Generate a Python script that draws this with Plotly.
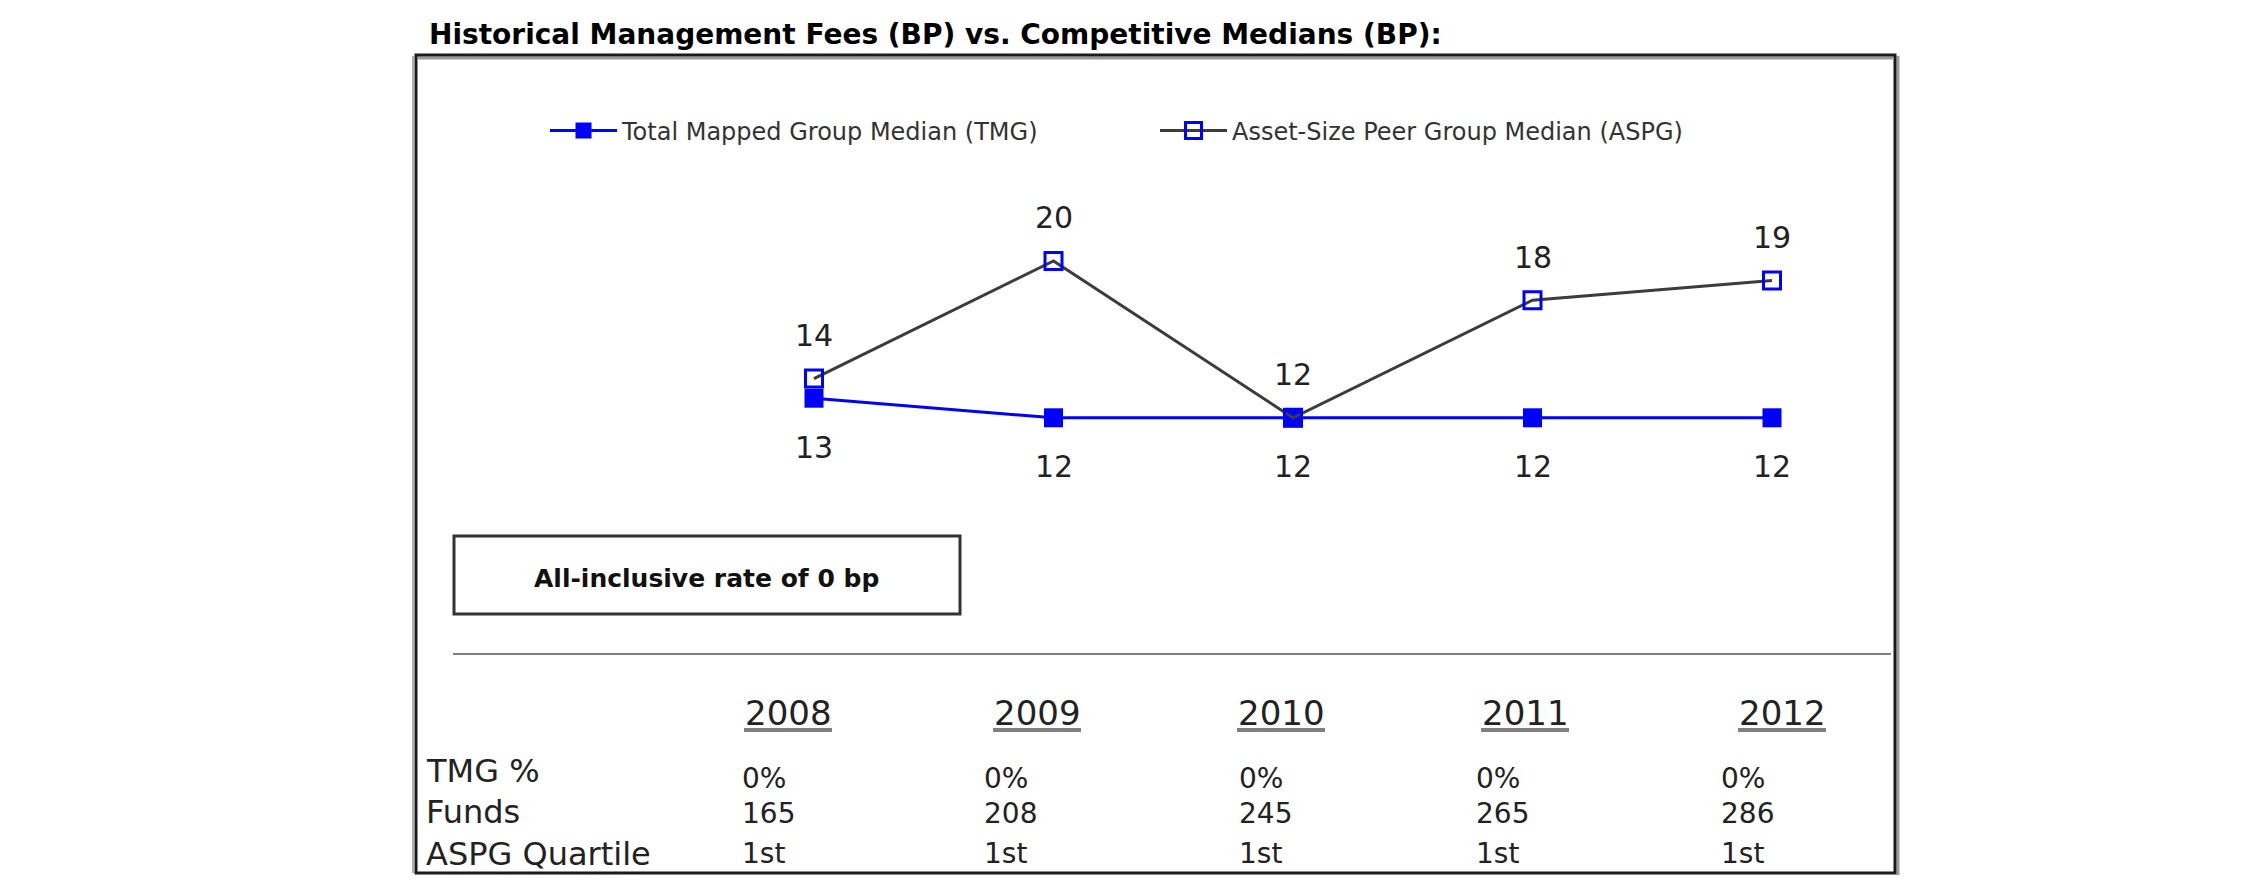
import plotly.graph_objects as go

# ---- data ----
years = [2008, 2009, 2010, 2011, 2012]
tmg_median = [13, 12, 12, 12, 12]
aspg_median = [14, 20, 12, 18, 19]
tmg_pct = ["0%", "0%", "0%", "0%", "0%"]
funds = [165, 208, 245, 265, 286]
aspg_quartile = ["1st", "1st", "1st", "1st", "1st"]
row_labels = ["TMG %", "Funds", "ASPG Quartile"]
title_text = "Historical Management Fees (BP) vs. Competitive Medians (BP):"
box_text = "All-inclusive rate of 0 bp"
series_names = ["Total Mapped Group Median (TMG)", "Asset-Size Peer Group Median (ASPG)"]

# ---- layout constants (pixels, in the 2250x895 page) ----
PAGE_OFF = 8          # default body margin of the html page
W, H = 2250 - PAGE_OFF, 895 - PAGE_OFF
FONT = "DejaVu Sans"
BLUE = "#0000ff"
GREY_LINE = "#3c3c3c"
TXT = "#222222"


def px(x):
    return (x - PAGE_OFF) / W


def py(y):
    return 1 - (y - PAGE_OFF) / H


plot_left, plot_right = 453, 1891
plot_top, plot_bottom = 150, 653
px_per_year = 239.5
first_pt_px = 814
x0 = years[0] - (first_pt_px - plot_left) / px_per_year
x1 = x0 + (plot_right - plot_left) / px_per_year
px_per_unit = 19.6
y_top = (plot_bottom - plot_top) / px_per_unit

fig = go.Figure()
fig.add_trace(go.Scatter(
    x=years, y=tmg_median, mode="lines+markers", name=series_names[0],
    line=dict(color=BLUE, width=3),
    marker=dict(symbol="square", size=19, color=BLUE),
))
fig.add_trace(go.Scatter(
    x=years, y=aspg_median, mode="lines+markers", name=series_names[1],
    line=dict(color=GREY_LINE, width=3),
    marker=dict(symbol="square-open", size=17, color=BLUE, line=dict(width=3, color=BLUE)),
))

annotations = []
# point labels
for x, v in zip(years, aspg_median):
    annotations.append(dict(x=x, y=v, xref="x", yref="y", text=str(v), showarrow=False,
                            yshift=43, font=dict(family=FONT, size=30, color=TXT)))
for x, v in zip(years, tmg_median):
    annotations.append(dict(x=x, y=v, xref="x", yref="y", text=str(v), showarrow=False,
                            yshift=-49, font=dict(family=FONT, size=30, color=TXT)))

# title
annotations.append(dict(x=px(427), y=py(35), xref="paper", yref="paper", text="<b>" + title_text + "</b>",
                        showarrow=False, xanchor="left", yanchor="middle",
                        font=dict(family=FONT, size=28, color="#000000")))
# box text
annotations.append(dict(x=px(706), y=py(578), xref="paper", yref="paper", text="<b>" + box_text + "</b>",
                        showarrow=False, xanchor="center", yanchor="middle",
                        font=dict(family=FONT, size=25, color="#111111")))

# table
header_cx = [788, 1037, 1281, 1525, 1782]
value_lx = [740, 982, 1237, 1474, 1719]
header_y = 713
label_rows_y = [771, 812, 854]
value_rows_y = [778, 813, 853]
for cx, yr in zip(header_cx, years):
    annotations.append(dict(x=px(cx), y=py(header_y), xref="paper", yref="paper", text=str(yr),
                            showarrow=False, xanchor="center", yanchor="middle",
                            font=dict(family=FONT, size=34, color=TXT)))
for ry, lab in zip(label_rows_y, row_labels):
    annotations.append(dict(x=px(424), y=py(ry), xref="paper", yref="paper", text=lab,
                            showarrow=False, xanchor="left", yanchor="middle",
                            font=dict(family=FONT, size=32, color=TXT)))
rows = [tmg_pct, [str(f) for f in funds], aspg_quartile]
for ry, row in zip(value_rows_y, rows):
    for lx, val in zip(value_lx, row):
        annotations.append(dict(x=px(lx), y=py(ry), xref="paper", yref="paper", text=val,
                                showarrow=False, xanchor="left", yanchor="middle",
                                font=dict(family=FONT, size=28, color=TXT)))

shapes = []
# frame with shadow
shapes.append(dict(type="line", xref="paper", yref="paper", x0=px(418), x1=px(1893), y0=py(58), y1=py(58),
                   line=dict(color="#9a9a9a", width=3)))
shapes.append(dict(type="line", xref="paper", yref="paper", x0=px(1898), x1=px(1898), y0=py(56), y1=py(875),
                   line=dict(color="#9a9a9a", width=3)))
shapes.append(dict(type="line", xref="paper", yref="paper", x0=px(413), x1=px(413), y0=py(56), y1=py(873),
                   line=dict(color="#b0b0b0", width=2)))
shapes.append(dict(type="rect", xref="paper", yref="paper", x0=px(416), x1=px(1895), y0=py(55), y1=py(873),
                   line=dict(color="#1a1a1a", width=3)))
# box
shapes.append(dict(type="rect", xref="paper", yref="paper", x0=px(454), x1=px(960), y0=py(536), y1=py(614),
                   line=dict(color="#333333", width=3)))
# header underlines
for cx in header_cx:
    shapes.append(dict(type="line", xref="paper", yref="paper", x0=px(cx - 44), x1=px(cx + 44),
                       y0=py(730), y1=py(730), line=dict(color="#808080", width=4)))

fig.update_layout(
    width=W, height=H,
    margin=dict(l=0, r=0, t=0, b=0),
    paper_bgcolor="white", plot_bgcolor="white",
    showlegend=True,
    legend=dict(orientation="h", x=px(545), y=py(131), xanchor="left", yanchor="middle",
                entrywidth=528, entrywidthmode="pixels", itemwidth=67,
                font=dict(family=FONT, size=24, color="#333333"), bgcolor="rgba(0,0,0,0)"),
    xaxis=dict(domain=[px(plot_left), px(plot_right)], range=[x0, x1], showgrid=False, zeroline=False,
               showticklabels=False, ticks="", showline=True, linecolor="#808080", linewidth=2),
    yaxis=dict(domain=[py(plot_bottom), py(plot_top)], range=[0, y_top], visible=False),
    annotations=annotations,
    shapes=shapes,
    font=dict(family=FONT),
)

fig.write_html("out.html")
